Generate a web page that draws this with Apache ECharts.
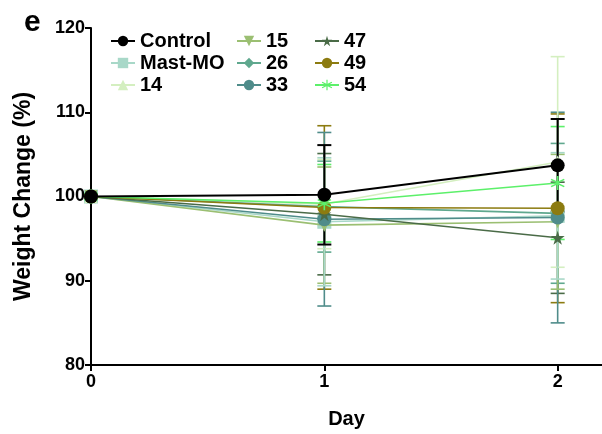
<!DOCTYPE html>
<html>
<head>
<meta charset="utf-8">
<script src="https://cdn.jsdelivr.net/npm/echarts@6/dist/echarts.min.js"></script>
<style>
  html, body { margin: 0; padding: 0; background: #fff; }
  #main { width: 602px; height: 434px; }
</style>
</head>
<body>
<div id="main"></div>
<script>
// data
var days = [0, 1, 2];
var groupNames = ['Control', 'Mast-MO', '14', '15', '26', '33', '47', '49', '54'];
var groupColors = ['#000000', '#a8d8c8', '#d4efc0', '#9bbf72', '#5fa88e', '#4f8c8a', '#4a6b47', '#8c7b10', '#5cf06a'];

var meanControl = [100, 100.2, 103.7];
var meanMastMO = [100, 97.0, 97.7];
var mean14 = [100, 99.1, 104.1];
var mean15 = [100, 96.6, 97.0];
var mean26 = [100, 98.8, 98.0];
var mean33 = [100, 97.3, 97.5];
var mean47 = [100, 97.9, 95.1];
var mean49 = [100, 98.7, 98.6];
var mean54 = [100, 99.2, 101.6];

var sdControl = [0, 5.9, 5.5];
var sdMastMO = [0, 7.6, 7.5];
var sd14 = [0, 5.3, 12.5];
var sd15 = [0, 6.9, 8.0];
var sd26 = [0, 5.4, 8.3];
var sd33 = [0, 10.3, 12.5];
var sd47 = [0, 7.2, 6.6];
var sd49 = [0, 9.7, 11.2];
var sd54 = [0, 4.6, 6.7];

var yTicks = [80, 90, 100, 110, 120];

var means = [meanControl, meanMastMO, mean14, mean15, mean26, mean33, mean47, mean49, mean54];
var sds = [sdControl, sdMastMO, sd14, sd15, sd26, sd33, sd47, sd49, sd54];

var starPath = 'path://M50,0 L61,35 L98,35 L68,57 L79,92 L50,70 L21,92 L32,57 L2,35 L39,35 Z';
var asteriskPath = 'path://M45,0 L55,0 L55,38 L88,19 L93,28 L60,47 L60,53 L93,72 L88,81 L55,62 L55,100 L45,100 L45,62 L12,81 L7,72 L40,53 L40,47 L7,28 L12,19 L45,38 Z';
var symbols = ['circle', 'rect', 'triangle', 'triangle', 'diamond', 'circle', starPath, 'circle', asteriskPath];
var rotations = [0, 0, 0, 180, 0, 0, 0, 0, 0];
var sizes = [14, 14, 13, 13, 12, 14, 14, 14, 14];

var series = [];

// lines + markers
groupNames.forEach(function (name, gi) {
    var pts = [];
    for (var i = 0; i < days.length; i++) pts.push([days[i], means[gi][i]]);
    series.push({
        name: name,
        type: 'line',
        data: pts,
        z: gi === 0 ? 10 : 3 + gi * 0.1,
        clip: false,
        symbol: symbols[gi],
        symbolRotate: rotations[gi],
        symbolSize: sizes[gi],
        showAllSymbol: true,
        lineStyle: { color: groupColors[gi], width: gi === 0 ? 2 : 1.6 },
        itemStyle: { color: groupColors[gi] }
    });
});

// error bars (mean +/- sd), underneath the lines; control's on top of the others
groupNames.forEach(function (name, gi) {
    var rows = [];
    for (var i = 0; i < days.length; i++) {
        if (sds[gi][i] > 0) rows.push([days[i], means[gi][i] - sds[gi][i], means[gi][i] + sds[gi][i]]);
    }
    series.push({
        name: name + ' sd',
        type: 'custom',
        z: gi === 0 ? 2.9 : 2 + (9 - gi) * 0.05,
        silent: true,
        clip: false,
        data: rows,
        encode: { x: 0, y: [1, 2] },
        renderItem: function (params, api) {
            var x = api.value(0);
            var lo = api.coord([x, api.value(1)]);
            var hi = api.coord([x, api.value(2)]);
            var w = 7;
            var st = { stroke: groupColors[gi], lineWidth: gi === 0 ? 2 : 1.6 };
            return {
                type: 'group',
                children: [
                    { type: 'line', shape: { x1: lo[0], y1: lo[1], x2: hi[0], y2: hi[1] }, style: st },
                    { type: 'line', shape: { x1: lo[0] - w, y1: lo[1], x2: lo[0] + w, y2: lo[1] }, style: st },
                    { type: 'line', shape: { x1: hi[0] - w, y1: hi[1], x2: hi[0] + w, y2: hi[1] }, style: st }
                ]
            };
        }
    });
});

function legendCol(names, left) {
    return {
        orient: 'vertical',
        left: left,
        top: 26,
        itemWidth: 24,
        itemHeight: 13,
        itemGap: 2,
        selectedMode: false,
        data: names,
        textStyle: { fontFamily: 'Liberation Sans, Arial', fontWeight: 'bold', fontSize: 20, color: '#000', lineHeight: 20 }
    };
}

var chart = echarts.init(document.getElementById('main'));
chart.setOption({
    animation: false,
    color: groupColors,
    title: {
        text: 'e',
        left: 19,
        top: 3,
        textStyle: { fontFamily: 'Liberation Sans, Arial', fontWeight: 'bold', fontSize: 30, color: '#000' }
    },
    legend: [
        legendCol(groupNames.slice(0, 3), 105),
        legendCol(groupNames.slice(3, 6), 231),
        legendCol(groupNames.slice(6, 9), 309)
    ],
    grid: { left: 91, top: 28, right: 0, bottom: 68, containLabel: false },
    xAxis: {
        type: 'value',
        min: 0,
        max: 2.19,
        interval: 1,
        name: 'Day',
        nameLocation: 'middle',
        nameGap: 44,
        nameTextStyle: { fontFamily: 'Liberation Sans, Arial', fontWeight: 'bold', fontSize: 20, color: '#000' },
        splitLine: { show: false },
        axisLine: { lineStyle: { color: '#000', width: 2 } },
        axisTick: { customValues: days, length: 6, lineStyle: { color: '#000', width: 2 } },
        axisLabel: { customValues: days, margin: 8, fontFamily: 'Liberation Sans, Arial', fontWeight: 'bold', fontSize: 18, color: '#000' }
    },
    yAxis: {
        type: 'value',
        min: 80,
        max: 120,
        interval: 10,
        name: 'Weight Change (%)',
        nameLocation: 'middle',
        nameGap: 56,
        nameTextStyle: { fontFamily: 'Liberation Sans, Arial', fontWeight: 'bold', fontSize: 23, color: '#000' },
        splitLine: { show: false },
        axisLine: { lineStyle: { color: '#000', width: 2 } },
        axisTick: { customValues: yTicks, length: 6, lineStyle: { color: '#000', width: 2 } },
        axisLabel: { customValues: yTicks, margin: 6, fontFamily: 'Liberation Sans, Arial', fontWeight: 'bold', fontSize: 18, color: '#000' }
    },
    series: series
});
</script>
</body>
</html>
